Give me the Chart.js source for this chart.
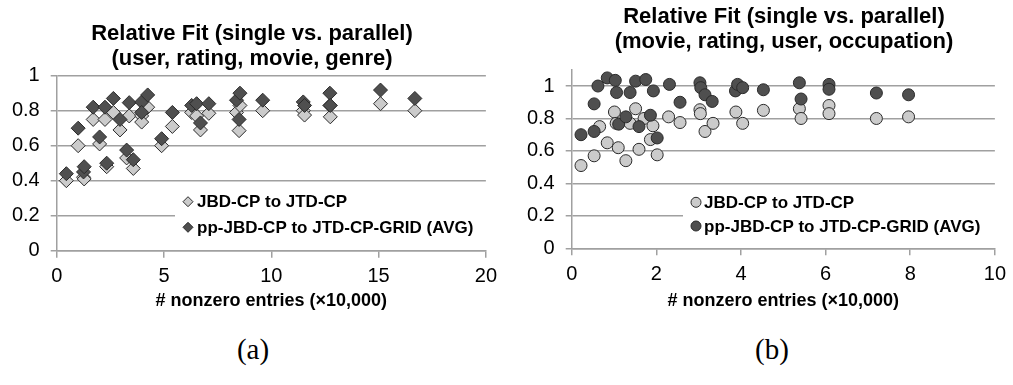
<!DOCTYPE html>
<html>
<head>
<meta charset="utf-8">
<script src="https://cdn.jsdelivr.net/npm/chart.js@4.4.1/dist/chart.umd.min.js"></script>
<style>
  html, body { margin: 0; padding: 0; background: #fff; }
  body { width: 1013px; height: 385px; position: relative; overflow: hidden; }
  .chart { position: absolute; top: 0; height: 320px; }
  #wrapA { left: 0; width: 504px; }
  #wrapB { left: 506px; width: 507px; }
  .caption { position: absolute; top: 333px; font-family: "Liberation Serif", "DejaVu Serif", serif; font-size: 29px; color: #000; transform: translateX(-50%); }
</style>
</head>
<body>
<div class="chart" id="wrapA"><canvas id="chartA"></canvas></div>
<div class="chart" id="wrapB"><canvas id="chartB"></canvas></div>
<div class="caption" style="left:253px">(a)</div>
<div class="caption" style="left:772px">(b)</div>
<script>
const fontFamily = "'Liberation Sans', Arial, sans-serif";
const lightFill = "#cbcbcb";
const darkFill = "#4f4f4f";
const markEdge = "#2a2a2a";
const gridGray = "#a0a0a0";

const seriesNames = ["JBD-CP to JTD-CP", "pp-JBD-CP to JTD-CP-GRID (AVG)"];
const axisTitle = "# nonzero entries (\u00d710,000)";

// (a) user, rating, movie, genre
const aTitle = ["Relative Fit (single vs. parallel)", "(user, rating, movie, genre)"];
const aEntries  = [0.45, 1.0, 1.25, 1.28, 1.7, 2.0, 2.25, 2.33, 2.64, 2.95, 3.26, 3.38, 3.57, 3.96, 3.96, 4.24,
                   4.89, 5.39, 6.29, 6.52, 6.7, 7.09, 8.38, 8.54, 8.5, 9.6, 11.49, 11.55, 12.73, 12.75, 15.09, 16.69];
const aSingle   = [0.40, 0.60, 0.42, 0.41, 0.75, 0.61, 0.75, 0.48, 0.79, 0.69, 0.53, 0.77, 0.47, 0.77, 0.735, 0.82,
                   0.60, 0.71, 0.79, 0.77, 0.69, 0.785, 0.79, 0.83, 0.686, 0.80, 0.80, 0.775, 0.83, 0.765, 0.84, 0.80];
const aParallel = [0.44, 0.70, 0.45, 0.48, 0.82, 0.65, 0.82, 0.50, 0.87, 0.75, 0.575, 0.846, 0.52, 0.85, 0.79, 0.89,
                   0.64, 0.79, 0.83, 0.84, 0.73, 0.84, 0.86, 0.90, 0.75, 0.86, 0.85, 0.83, 0.90, 0.83, 0.918, 0.87];
const aXTicks = [0, 5, 10, 15, 20];
const aYTicks = [0, 0.2, 0.4, 0.6, 0.8, 1];

// (b) movie, rating, user, occupation
const bTitle = ["Relative Fit (single vs. parallel)", "(movie, rating, user, occupation)"];
const bSingleX = [0.22, 0.53, 0.66, 0.84, 1.01, 1.05, 1.10, 1.28, 1.38, 1.51, 1.59, 1.71, 1.86, 1.92, 2.02,
                  2.29, 2.56, 3.03, 3.04, 3.15, 3.34, 3.88, 4.04, 4.53, 5.38, 5.42, 6.08, 6.08, 7.2, 7.96];
const bSingleY = [0.51, 0.57, 0.75, 0.65, 0.84, 0.77, 0.62, 0.54, 0.77, 0.86, 0.61, 0.80, 0.67, 0.755, 0.576,
                  0.81, 0.775, 0.854, 0.83, 0.72, 0.77, 0.84, 0.77, 0.85, 0.86, 0.80, 0.88, 0.83, 0.80, 0.81];
const bParX = [0.22, 0.53, 0.53, 0.62, 0.84, 1.03, 1.06, 1.11, 1.28, 1.38, 1.51, 1.59, 1.75, 1.86, 1.93, 2.02,
               2.31, 2.56, 3.03, 3.05, 3.15, 3.32, 3.87, 3.92, 4.04, 4.53, 5.38, 5.42, 6.08, 6.08, 7.2, 7.96];
const bParY = [0.70, 0.72, 0.89, 1.0, 1.05, 1.035, 0.96, 0.765, 0.81, 0.96, 1.03, 0.75, 1.04, 0.82, 0.97, 0.68,
               1.01, 0.90, 1.02, 0.99, 0.946, 0.905, 0.97, 1.01, 0.99, 0.977, 1.02, 0.92, 1.01, 0.98, 0.957, 0.946];
const bXTicks = [0, 2, 4, 6, 8, 10];
const bYTicks = [0, 0.2, 0.4, 0.6, 0.8, 1];

Chart.defaults.font.family = fontFamily;
Chart.defaults.color = "#000";

// legend drawn inside the plot on a white box, like the original
const boxLegend = {
    id: "boxLegend",
    afterDatasetsDraw(chart, args, opts) {
        const ctx = chart.ctx;
        ctx.save();
        ctx.fillStyle = "#fff";
        ctx.fillRect(opts.box[0], opts.box[1], opts.box[2], opts.box[3]);
        ctx.font = "bold 17px " + fontFamily;
        ctx.textBaseline = "middle";
        ctx.lineWidth = 1;
        chart.data.datasets.forEach((ds, i) => {
            let y = opts.rows[i];
            let x = opts.markX;
            let r = opts.markR;
            ctx.fillStyle = ds.backgroundColor;
            ctx.strokeStyle = ds.borderColor;
            ctx.beginPath();
            if(ds.pointStyle == "rectRot"){
                ctx.moveTo(x, y - r);
                ctx.lineTo(x + r, y);
                ctx.lineTo(x, y + r);
                ctx.lineTo(x - r, y);
                ctx.closePath();
            }else{
                ctx.arc(x, y, r, 0, Math.PI * 2);
            }
            ctx.fill();
            ctx.stroke();
            ctx.fillStyle = "#000";
            ctx.fillText(ds.label, opts.textX, y + 1);
        });
        ctx.restore();
    }
};

// the two-line title is centred over the figure, not over the plot area
const titleShift = {
    id: "titleShift",
    afterLayout(chart, args, opts) {
        let t = chart.titleBlock;
        if(!t) return;
        let dx = opts.centerX - (t.left + t.right) / 2;
        t.left += dx;
        t.right += dx;
    }
};

const makeScales = (xTicks, yTicks, xMax, yMax, yWidth, xHeight) => {
    return {
        x: {
            type: "linear",
            min: 0,
            max: xMax,
            afterBuildTicks: (s) => { s.ticks = xTicks.map(v => ({value: v})); },
            afterFit: (s) => { s.height = xHeight; },
            border: {display: true, color: gridGray, width: 1.5},
            grid: {drawOnChartArea: false, drawTicks: true, tickLength: 7, color: gridGray, lineWidth: 1.5},
            ticks: {font: {size: 20}, padding: 7, maxRotation: 0, callback: (v) => String(Math.round(v * 10) / 10)},
            title: {display: true, text: axisTitle, font: {size: 18, weight: "bold"}, padding: {top: 0, bottom: 8}}
        },
        y: {
            type: "linear",
            min: 0,
            max: yMax,
            afterBuildTicks: (s) => { s.ticks = yTicks.map(v => ({value: v})); },
            afterFit: (s) => { s.width = yWidth; },
            border: {display: true, color: gridGray, width: 1.5},
            grid: {drawTicks: true, tickLength: 6, color: gridGray, lineWidth: 1.5},
            ticks: {font: {size: 20}, padding: 11, callback: (v) => String(Math.round(v * 10) / 10)}
        }
    };
};

const makeDataSets = (style, radius, lightPts, darkPts) => {
    return [
        {label: seriesNames[0], data: lightPts, pointStyle: style, pointRadius: radius, pointHoverRadius: radius,
         backgroundColor: lightFill, borderColor: markEdge, borderWidth: 1, order: 2},
        {label: seriesNames[1], data: darkPts, pointStyle: style, pointRadius: radius, pointHoverRadius: radius,
         backgroundColor: darkFill, borderColor: markEdge, borderWidth: 1, order: 1}
    ];
};

const makeTitle = (text, padTop, padBottom) => {
    return {display: true, text: text, color: "#000",
            font: {size: 22, weight: "bold", lineHeight: 25 / 22},
            padding: {top: padTop, bottom: padBottom}};
};

new Chart(document.getElementById("chartA"), {
    type: "scatter",
    data: {
        datasets: makeDataSets("rectRot", 7,
            aEntries.map((x, i) => ({x: x, y: aSingle[i]})),
            aEntries.map((x, i) => ({x: x, y: aParallel[i]})))
    },
    options: {
        responsive: true,
        maintainAspectRatio: false,
        animation: false,
        layout: {padding: {left: 0, right: 17.3, top: 0, bottom: 0}},
        scales: makeScales(aXTicks, aYTicks, 20, 1, 56.7, 69.3),
        plugins: {
            legend: {display: false},
            tooltip: {enabled: false},
            title: makeTitle(aTitle, 21.3, 4.4),
            titleShift: {centerX: 252},
            boxLegend: {box: [175, 186, 315, 58], rows: [201.7, 227.3], markX: 188, markR: 5, textX: 197}
        }
    },
    plugins: [boxLegend, titleShift]
});

new Chart(document.getElementById("chartB"), {
    type: "scatter",
    data: {
        datasets: makeDataSets("circle", 6,
            bSingleX.map((x, i) => ({x: x, y: bSingleY[i]})),
            bParX.map((x, i) => ({x: x, y: bParY[i]})))
    },
    options: {
        responsive: true,
        maintainAspectRatio: false,
        animation: false,
        layout: {padding: {left: 0, right: 12.3, top: 0, bottom: 0}},
        scales: makeScales(bXTicks, bYTicks, 10, 1.1, 65.7, 71.7),
        plugins: {
            legend: {display: false},
            tooltip: {enabled: false},
            title: makeTitle(bTitle, 4.6, 15.2),
            titleShift: {centerX: 278},
            boxLegend: {box: [177, 187, 316, 56], rows: [202.3, 226], markX: 190, markR: 5, textX: 198}
        }
    },
    plugins: [boxLegend, titleShift]
});
</script>
</body>
</html>
